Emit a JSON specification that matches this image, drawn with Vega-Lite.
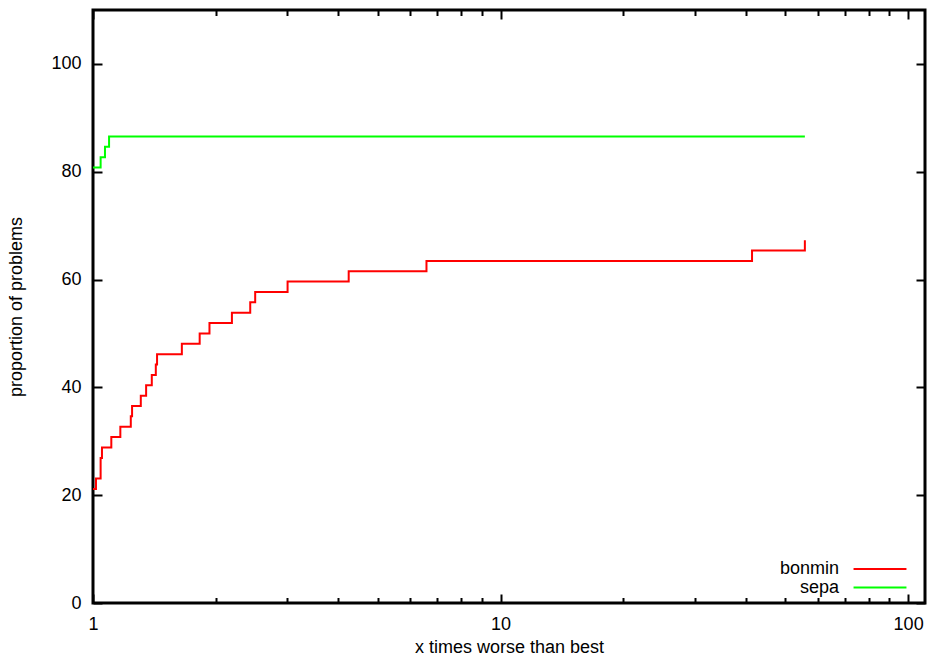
{
  "$schema": "https://vega.github.io/schema/vega-lite/v6.json",
  "width": 832,
  "height": 593,
  "autosize": {"type": "none"},
  "padding": {"left": 93, "top": 10, "right": 2, "bottom": 54},
  "background": "white",
  "config": {
    "view": {"stroke": "black", "strokeWidth": 3},
    "font": "Liberation Sans",
    "axis": {
      "domain": false,
      "grid": false,
      "tickColor": "black",
      "tickWidth": 2,
      "labelFont": "Liberation Sans",
      "labelFontSize": 18,
      "labelColor": "black",
      "titleFont": "Liberation Sans",
      "titleFontSize": 18,
      "titleFontWeight": "normal",
      "titleColor": "black"
    }
  },
  "datasets": {
    "perf": [
      {"solver": "bonmin", "ratio": 1, "pct": 21.15},
      {"solver": "bonmin", "ratio": 1.017, "pct": 23.08},
      {"solver": "bonmin", "ratio": 1.044, "pct": 26.92},
      {"solver": "bonmin", "ratio": 1.052, "pct": 28.85},
      {"solver": "bonmin", "ratio": 1.109, "pct": 30.77},
      {"solver": "bonmin", "ratio": 1.167, "pct": 32.69},
      {"solver": "bonmin", "ratio": 1.238, "pct": 34.62},
      {"solver": "bonmin", "ratio": 1.247, "pct": 36.54},
      {"solver": "bonmin", "ratio": 1.31, "pct": 38.46},
      {"solver": "bonmin", "ratio": 1.35, "pct": 40.38},
      {"solver": "bonmin", "ratio": 1.394, "pct": 42.31},
      {"solver": "bonmin", "ratio": 1.426, "pct": 44.23},
      {"solver": "bonmin", "ratio": 1.436, "pct": 46.15},
      {"solver": "bonmin", "ratio": 1.652, "pct": 48.08},
      {"solver": "bonmin", "ratio": 1.827, "pct": 50.0},
      {"solver": "bonmin", "ratio": 1.931, "pct": 51.92},
      {"solver": "bonmin", "ratio": 2.192, "pct": 53.85},
      {"solver": "bonmin", "ratio": 2.431, "pct": 55.77},
      {"solver": "bonmin", "ratio": 2.5, "pct": 57.69},
      {"solver": "bonmin", "ratio": 3.002, "pct": 59.62},
      {"solver": "bonmin", "ratio": 4.24, "pct": 61.54},
      {"solver": "bonmin", "ratio": 6.58, "pct": 63.46},
      {"solver": "bonmin", "ratio": 41.4, "pct": 65.38},
      {"solver": "bonmin", "ratio": 55.8, "pct": 67.31},
      {"solver": "sepa", "ratio": 1, "pct": 80.77},
      {"solver": "sepa", "ratio": 1.044, "pct": 82.69},
      {"solver": "sepa", "ratio": 1.07, "pct": 84.62},
      {"solver": "sepa", "ratio": 1.095, "pct": 86.54},
      {"solver": "sepa", "ratio": 55.8, "pct": 86.54}
    ]
  },
  "layer": [
    {
      "data": {"name": "perf"},
      "mark": {"type": "line", "interpolate": "step-after", "strokeWidth": 2, "clip": true},
      "encoding": {
        "x": {
          "field": "ratio",
          "type": "quantitative",
          "scale": {"type": "log", "domain": [1, 110], "nice": false},
          "axis": {
            "orient": "bottom",
            "values": [1, 2, 3, 4, 5, 6, 7, 8, 9, 10, 20, 30, 40, 50, 60, 70, 80, 90, 100],
            "format": "d",
            "labelExpr": "datum.value == 1 || datum.value == 10 || datum.value == 100 ? datum.label : ''",
            "tickSize": {"condition": {"test": "datum.value == 1 || datum.value == 10 || datum.value == 100", "value": -9}, "value": -5.5},
            "labelPadding": 21,
            "labelFlush": false,
            "labelOverlap": false,
            "title": "x times worse than best",
            "titlePadding": 2
          }
        },
        "y": {
          "field": "pct",
          "type": "quantitative",
          "scale": {"domain": [0, 110], "nice": false, "zero": false},
          "axis": {
            "orient": "left",
            "values": [0, 20, 40, 60, 80, 100],
            "tickSize": -9,
            "labelPadding": 21,
            "title": "proportion of problems",
            "titlePadding": 25
          }
        },
        "color": {
          "field": "solver",
          "type": "nominal",
          "scale": {"domain": ["bonmin", "sepa"], "range": ["#ff0000", "#00ff00"]},
          "legend": {
            "title": null,
            "orient": "none",
            "legendX": 778,
            "legendY": 550,
            "padding": 0,
            "rowPadding": 0.5,
            "symbolType": "M-5,0H5",
            "symbolSize": 112,
            "symbolStrokeWidth": 2,
            "labelAlign": "right",
            "labelOffset": -50,
            "labelFont": "Liberation Sans",
            "labelFontSize": 18,
            "labelColor": "black"
          }
        }
      }
    },
    {
      "data": {"name": "perf"},
      "mark": {"type": "line", "opacity": 0},
      "encoding": {
        "x": {
          "field": "ratio",
          "type": "quantitative",
          "scale": {"type": "log", "domain": [1, 110], "nice": false},
          "axis": {
            "orient": "top",
            "values": [1, 2, 3, 4, 5, 6, 7, 8, 9, 10, 20, 30, 40, 50, 60, 70, 80, 90, 100],
            "labels": false,
            "tickSize": {"condition": {"test": "datum.value == 1 || datum.value == 10 || datum.value == 100", "value": -9}, "value": -5.5},
            "title": null
          }
        },
        "y": {
          "field": "pct",
          "type": "quantitative",
          "scale": {"domain": [0, 110], "nice": false, "zero": false},
          "axis": {
            "orient": "right",
            "values": [0, 20, 40, 60, 80, 100],
            "labels": false,
            "tickSize": -9,
            "title": null
          }
        }
      }
    }
  ],
  "resolve": {"axis": {"x": "independent", "y": "independent"}}
}
